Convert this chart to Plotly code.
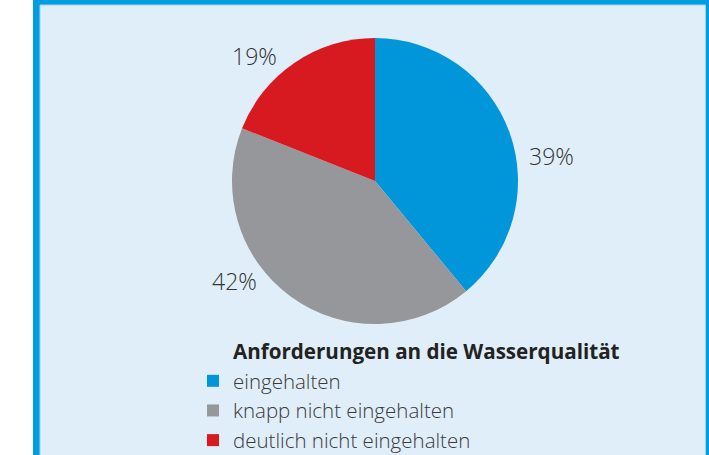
import plotly.graph_objects as go

categories = ["eingehalten", "knapp nicht eingehalten", "deutlich nicht eingehalten"]
values = [39, 42, 19]
colors = ["#0096D9", "#96979B", "#D71920"]
legend_title = "Anforderungen an die Wasserqualität"

W, H = 709, 455

# anchor positions (pixels) for the percentage labels, one per slice
label_px = [(551, 156), (234.5, 281), (254, 55.5)]

fig = go.Figure()
fig.add_trace(go.Pie(
    labels=categories,
    values=values,
    marker=dict(colors=colors, line=dict(width=0)),
    sort=False,
    direction="clockwise",
    rotation=0,
    textinfo="none",
    domain=dict(x=[232 / W, 518 / W], y=[1 - 324 / H, 1 - 38 / H]),
    showlegend=True,
    hoverinfo="skip",
))

annotations = []
total = sum(values)
for v, (px, py) in zip(values, label_px):
    annotations.append(dict(
        text=f"{round(100 * v / total)}%",
        x=px / W, y=1 - py / H, xref="paper", yref="paper",
        xanchor="center", yanchor="middle", showarrow=False,
        font=dict(size=23, color="#333333", family="Open Sans", weight=300),
    ))
annotations.append(dict(
    text="<b>" + legend_title + "</b>",
    x=231 / W, y=1 - 351 / H, xref="paper", yref="paper",
    xanchor="left", yanchor="middle", showarrow=False,
    font=dict(size=20.6, color="#222222", family="Open Sans"),
))

shapes = [
    dict(type="rect", xref="paper", yref="paper",
         x0=33 / W, x1=1.01, y0=-0.05, y1=1.01,
         fillcolor="#009EE0", line=dict(width=0), layer="below"),
    dict(type="rect", xref="paper", yref="paper",
         x0=40 / W, x1=705.5 / W, y0=-0.05, y1=1 - 5 / H,
         fillcolor="#E0EEF9", line=dict(width=1, color="#9CD3F0"), layer="below"),
]

fig.update_layout(
    width=W, height=H,
    margin=dict(l=0, r=0, t=0, b=0, autoexpand=False),
    paper_bgcolor="white",
    plot_bgcolor="white",
    font=dict(family="Open Sans", color="#333333"),
    showlegend=True,
    legend=dict(
        font=dict(size=20.5, color="#3a3a3a", family="Open Sans", weight=300),
        x=193 / W, xanchor="left",
        y=1 - 361 / H, yanchor="top",
        bgcolor="rgba(0,0,0,0)",
        itemwidth=30,
        tracegroupgap=0,
    ),
    annotations=annotations,
    shapes=shapes,
)

fig.write_html("out.html", config={"displayModeBar": False},
               post_script="document.body.style.margin='0';document.body.style.overflow='hidden';")
